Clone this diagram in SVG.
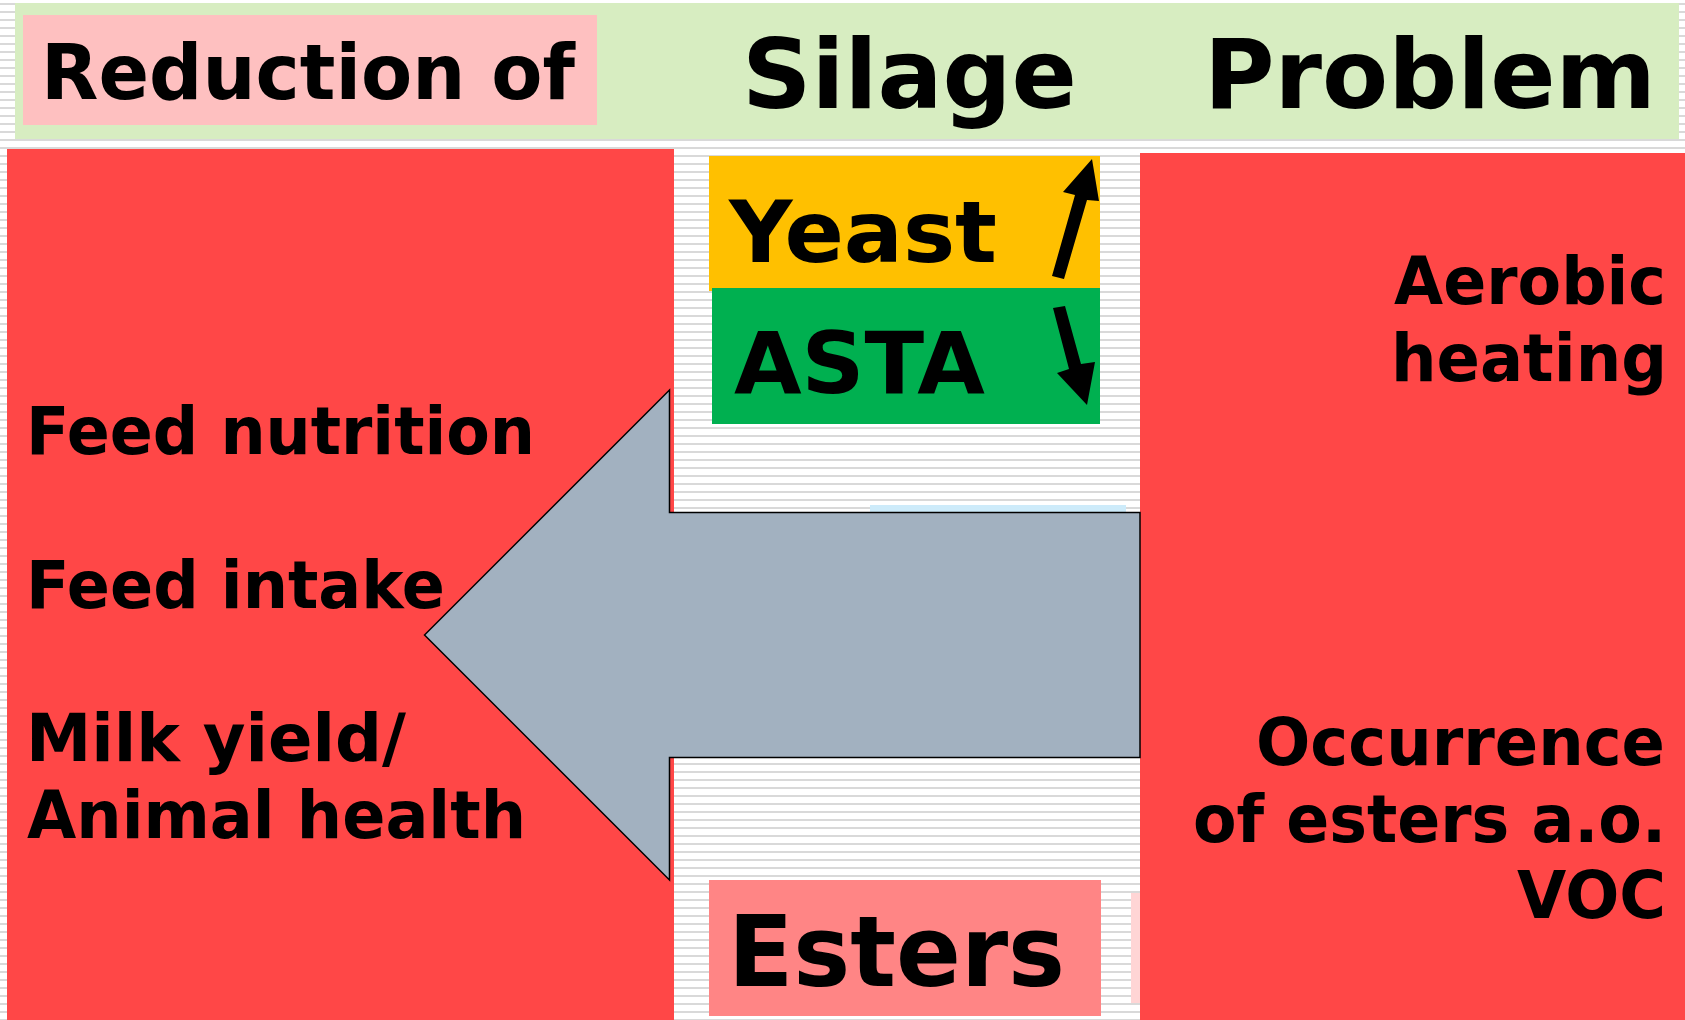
<svg xmlns="http://www.w3.org/2000/svg" width="1685" height="1020" viewBox="0 0 1685 1020">
  <defs>
    <pattern id="stripes" x="0" y="0" width="8" height="8" patternUnits="userSpaceOnUse">
      <rect x="0" y="0" width="8" height="8" fill="#ffffff"/>
      <rect x="0" y="3" width="8" height="2" fill="#d9d9d9"/>
    </pattern>
  </defs>
  <style>
    .t { font-family: "DejaVu Sans", Verdana, "Liberation Sans", sans-serif; font-weight: bold; fill: #000000; }
    .red { fill: #ff4747; }
    .side { font-size: 66px; }
    .big { font-size: 85px; }
  </style>
  <rect x="0" y="0" width="1685" height="1020" fill="url(#stripes)"/>

  <g id="title-bar">
    <rect x="15" y="3" width="1664" height="136" fill="#d7edc1"/>
    <rect x="23" y="15" width="574" height="110" fill="#fec0c0"/>
    <text class="t" x="41" y="99" font-size="76" textLength="534" lengthAdjust="spacingAndGlyphs">Reduction of</text>
    <text class="t" x="742" y="108" font-size="97" textLength="335" lengthAdjust="spacingAndGlyphs">Silage</text>
    <text class="t" x="1204" y="108" font-size="97" textLength="452" lengthAdjust="spacingAndGlyphs">Problem</text>
  </g>

  <g id="effects-panel">
    <rect class="red" x="7" y="149" width="667" height="871"/>
    <text class="t side" x="26" y="454" textLength="509" lengthAdjust="spacingAndGlyphs">Feed nutrition</text>
    <text class="t side" x="26" y="608" textLength="419" lengthAdjust="spacingAndGlyphs">Feed intake</text>
    <text class="t side" x="26" y="761" textLength="380" lengthAdjust="spacingAndGlyphs">Milk yield/</text>
    <text class="t side" x="27" y="838" textLength="499" lengthAdjust="spacingAndGlyphs">Animal health</text>
  </g>

  <g id="problems-panel">
    <rect class="red" x="1140" y="153" width="545" height="867"/>
    <rect x="1131" y="893" width="9" height="110" fill="#ffd5d5"/>
    <text class="t side" x="1666" y="304" text-anchor="end" textLength="272" lengthAdjust="spacingAndGlyphs">Aerobic</text>
    <text class="t side" x="1667" y="381" text-anchor="end" textLength="276" lengthAdjust="spacingAndGlyphs">heating</text>
    <text class="t side" x="1665" y="765" text-anchor="end" textLength="409" lengthAdjust="spacingAndGlyphs">Occurrence</text>
    <text class="t side" x="1666" y="842" text-anchor="end" textLength="473" lengthAdjust="spacingAndGlyphs">of esters a.o.</text>
    <text class="t side" x="1666" y="918" text-anchor="end" textLength="149" lengthAdjust="spacingAndGlyphs">VOC</text>
  </g>

  <g id="yeast">
    <rect x="709" y="156" width="391" height="135" fill="#ffc000"/>
    <text class="t big" x="729" y="262" textLength="268" lengthAdjust="spacingAndGlyphs">Yeast</text>
  </g>

  <g id="asta">
    <rect x="712" y="288" width="388" height="136" fill="#00b050"/>
    <text class="t big" x="734" y="393" textLength="251" lengthAdjust="spacingAndGlyphs">ASTA</text>
  </g>

  <g id="esters">
    <rect x="709" y="880" width="392" height="136" fill="#ff8585"/>
    <text class="t" x="728" y="986" font-size="98" textLength="337" lengthAdjust="spacingAndGlyphs">Esters</text>
  </g>

  <g id="connectors">
    <rect x="870" y="505" width="256" height="20" fill="#cdebfa"/>
    <polygon points="424.5,635 669.5,390 669.5,512.5 1140,512.5 1140,757.5 669.5,757.5 669.5,880" fill="#a2b1c0" stroke="#000000" stroke-width="1.5" stroke-linejoin="miter"/>
    <polygon points="1052,276 1064,279 1087,200 1099,201 1092,159 1063,192 1075,195" fill="#000000"/>
    <polygon points="1053,308 1065,306 1081,364 1095,362 1087,405 1057,373 1069,369" fill="#000000"/>
  </g>
</svg>
